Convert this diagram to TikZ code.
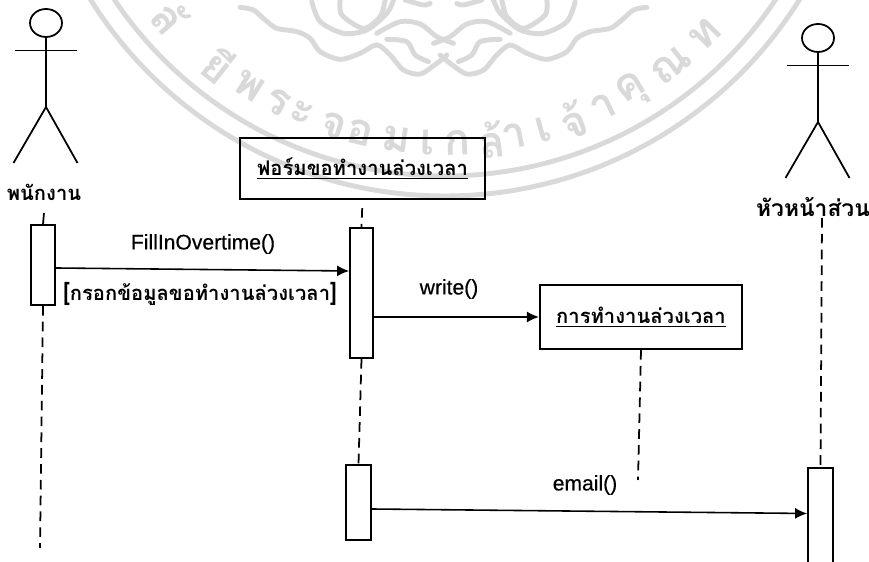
\documentclass[tikz,border=0pt]{standalone}
\usepackage{fontspec}
\setmainfont{Liberation Sans}
\newfontfamily\msgfont[FakeBold=0.5]{Liberation Sans}
\newfontfamily\thaifont[Script=Thai]{Loma}
\usetikzlibrary{arrows.meta, positioning, calc, shapes.geometric}
\tikzset{
    lifebar/.style={draw, line width=1pt, inner sep=0pt},
    objbox/.style={draw, line width=1.2pt, inner sep=0pt, font=\thaifont\bfseries\fontsize{11.5}{13}\selectfont},
    lifeline/.style={line width=1pt, dash pattern=on 5.5pt off 3.5pt},
    msg/.style={->, line width=0.9pt},
    stick/.style={line width=1pt},
    thailabel/.style={font=\thaifont\bfseries\fontsize{11.5}{13}\selectfont},
    msglabel/.style={font=\msgfont\fontsize{12}{14}\selectfont},
    markline/.style={draw=black!15, line width=2.8pt, line cap=round},
    markchar/.style={text=black!15, inner sep=0pt, font=\thaifont\bfseries\fontsize{25}{28}\selectfont}
}

\begin{document}
\begin{tikzpicture}[>={Latex[length=2.4mm,width=2.2mm]}]
        \useasboundingbox (0,0) rectangle (17.38,11.24);
        \clip (0,0) rectangle (17.38,11.24);

        % --- seal behind the diagram ---
        \coordinate (sealC) at (8.9,15.68);
        \draw[markline] (sealC) circle (8.36);
        \draw[markline] (sealC) circle (7.96);
        \foreach \a/\c [count=\i] in {-49/ลั,-38.2/ยี,-32.4/พ,-27.3/ร,-23.2/ะ,-17.8/จ,-13.5/อ,-7.6/ม,-2.8/เ,1.9/ก,7.3/ล้,11/า,15.7/เ,20.6/จ้,25.7/า,30.9/คุ,38.2/ณ,45.3/ท} {
            \node[markchar, rotate=\a] (seal\i) at ($(sealC)+(\a-90:7.3)$) {\c};
        }
        \foreach \s in {1,-1} {
            \begin{scope}[shift={(8.87,11.24)}, xscale=\s, x=0.00667cm, y=-0.00667cm]
                \draw[markline] plot[smooth] coordinates {(-610,22) (-570,30) (-535,60) (-500,85) (-440,95) (-400,115) (-370,155) (-310,178) (-250,160) (-200,135) (-160,165) (-120,210) (-70,222) (-20,190) (10,165)};
                \draw[markline] plot[smooth] coordinates {(-200,100) (-130,65) (-70,72) (-20,110) (30,130)};
                \draw[markline] plot[smooth] coordinates {(-170,118) (-110,125) (-85,165) (-45,185)};
                \draw[markline] plot[smooth] coordinates {(-395,5) (-370,65) (-300,100) (-230,90) (-170,40) (-150,0)};
                \draw[markline] plot[smooth] coordinates {(-310,0) (-305,45) (-240,85) (-190,50) (-175,0)};
                \draw[markline] plot[smooth] coordinates {(-115,0) (-60,15) (-40,10)};
            \end{scope}
        }

        % --- actors ---
        \foreach \px/\py/\n in {0.92/10.78/A,16.36/10.48/B} {
            \begin{scope}[shift={(\px,\py)}]
                \node[draw, ellipse, stick, minimum width=0.64cm, minimum height=0.56cm, inner sep=0pt] (head\n) at (0,0) {};
                \coordinate (hip\n) at (0,-1.68);
                \draw[stick] (-0.62,-0.55) -- (0.62,-0.55);
                \draw[stick] (head\n) -- (hip\n);
                \draw[stick] (-0.65,-2.8) -- (hip\n) -- (0.63,-2.8);
            \end{scope}
        }
        \node[thailabel] (labelA) at (0.88,7.4) {พนักงาน};
        \node[thailabel, font=\thaifont\bfseries\fontsize{13}{15}\selectfont] (labelB) at (16.26,7.1) {หัวหน้าส่วน};

        % --- objects ---
        \node[objbox, minimum width=4.9cm, minimum height=1.22cm] (formBox) at (7.25,7.87) {\underline{ฟอร์มขอทำงานล่วงเวลา}};
        \node[objbox, minimum width=4.04cm, minimum height=1.28cm] (workBox) at (12.82,4.9) {\underline{การทำงานล่วงเวลา}};

        % --- activation bars ---
        \node[lifebar, minimum width=0.48cm, minimum height=1.6cm] (barA) at (0.86,5.94) {};
        \node[lifebar, minimum width=0.46cm, minimum height=2.6cm] (barF) at (7.23,5.38) {};
        \node[lifebar, minimum width=0.5cm, minimum height=1.5cm] (barG) at (7.17,1.19) {};
        \node[lifebar, minimum width=0.5cm, minimum height=2.5cm] (barB) at (16.41,0.63) {};

        % --- lifelines ---
        \coordinate (stubA) at (0.88,6.98);
        \coordinate (endA) at (0.8,0.28);
        \coordinate (endW) at (12.76,1.64);
        \coordinate (startB) at (16.44,6.88);
        \draw[line width=1pt] (stubA) -- (barA.north);
        \draw[lifeline] (barA.south) -- (endA);
        \draw[lifeline, shorten <=0.16cm] (formBox.south) -- (barF.north);
        \draw[lifeline] (barF.south) -- (barG.north);
        \draw[lifeline] (workBox.south) -- (endW);
        \draw[lifeline] (startB) -- (barB.north);

        % --- messages ---
        \draw[msg] ([yshift=-0.06cm]barA.east) -- ([yshift=0.44cm]barF.west);
        \draw[msg] (barF.east |- workBox.west) -- (workBox.west);
        \draw[msg] ([yshift=-0.13cm]barG.east) -- ([yshift=0.34cm]barB.west);
        \node[msglabel] (fillLabel) at (4.06,6.36) {FillInOvertime()};
        \node[thailabel] (guardLabel) at (4.0,5.36) {{\Large[}กรอกข้อมูลขอทำงานล่วงเวลา{\Large]}};
        \node[msglabel] (writeLabel) at (8.98,5.46) {write()};
        \node[msglabel] (emailLabel) at (11.7,1.54) {email()};
    \end{tikzpicture}
\end{document}
